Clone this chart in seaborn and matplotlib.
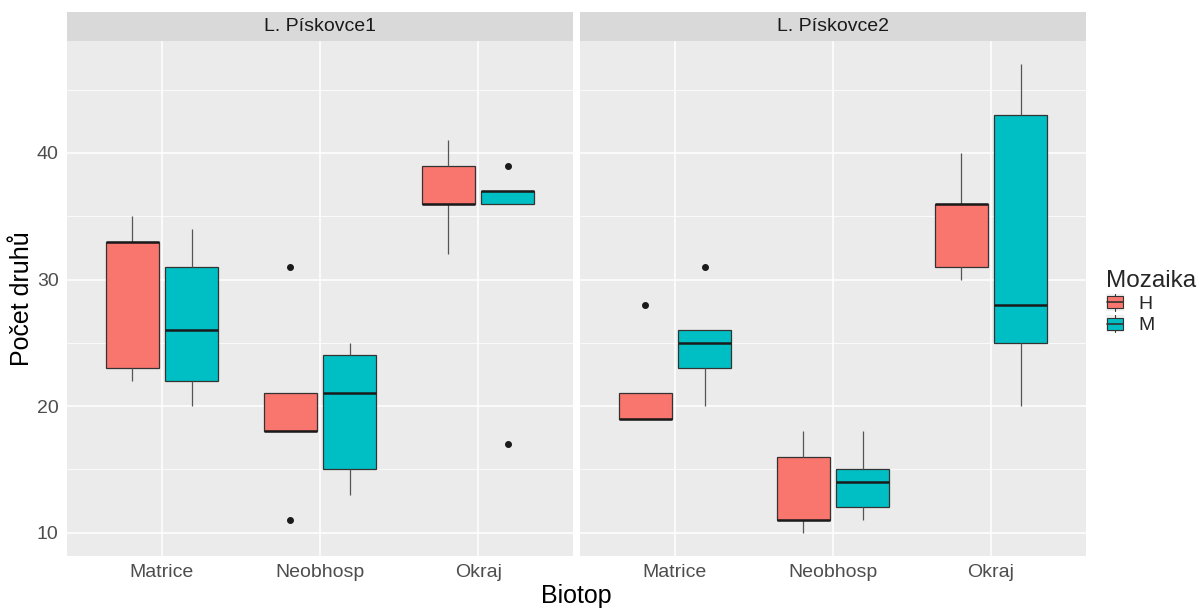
import matplotlib.pyplot as plt
import numpy as np
import pandas as pd
import seaborn as sns
from matplotlib.patches import Patch, Rectangle
from matplotlib.lines import Line2D
from matplotlib.legend_handler import HandlerBase
from matplotlib.ticker import MultipleLocator

biotopy = ['Matrice', 'Neobhosp', 'Okraj']
lokality = ['L. Pískovce1', 'L. Pískovce2']
mozaiky = ['H', 'M']
barvy = ['#F8766D', '#00BFC4']
y_ticks = [10, 20, 30, 40]

# pocet druhu, L. Piskovce1
p1_H_matrice = [22, 23, 33, 33, 35]
p1_M_matrice = [20, 22, 26, 31, 34]
p1_H_neobhosp = [11, 18, 18, 21, 31]
p1_M_neobhosp = [13, 15, 21, 24, 25]
p1_H_okraj = [32, 36, 36, 39, 41]
p1_M_okraj = [17, 36, 37, 37, 39]
# pocet druhu, L. Piskovce2
p2_H_matrice = [19, 19, 19, 21, 28]
p2_M_matrice = [20, 23, 25, 26, 31]
p2_H_neobhosp = [10, 11, 11, 16, 18]
p2_M_neobhosp = [11, 12, 14, 15, 18]
p2_H_okraj = [30, 31, 36, 36, 40]
p2_M_okraj = [20, 25, 28, 43, 47]

rows = []
serie = [
    (lokality[0], 'H', 'Matrice', p1_H_matrice), (lokality[0], 'M', 'Matrice', p1_M_matrice),
    (lokality[0], 'H', 'Neobhosp', p1_H_neobhosp), (lokality[0], 'M', 'Neobhosp', p1_M_neobhosp),
    (lokality[0], 'H', 'Okraj', p1_H_okraj), (lokality[0], 'M', 'Okraj', p1_M_okraj),
    (lokality[1], 'H', 'Matrice', p2_H_matrice), (lokality[1], 'M', 'Matrice', p2_M_matrice),
    (lokality[1], 'H', 'Neobhosp', p2_H_neobhosp), (lokality[1], 'M', 'Neobhosp', p2_M_neobhosp),
    (lokality[1], 'H', 'Okraj', p2_H_okraj), (lokality[1], 'M', 'Okraj', p2_M_okraj),
]
for lok, moz, bio, vals in serie:
    for v in vals:
        rows.append({'Lokalita': lok, 'Mozaika': moz, 'Biotop': bio, 'Pocet': v})
df = pd.DataFrame(rows)


class BoxKey(HandlerBase):
    # legend key like ggplot: grey square with a small boxplot
    def create_artists(self, legend, orig, xd, yd, w, h, fs, trans):
        x0, y0 = -xd, -yd
        bg = Rectangle((x0, y0), w, h, facecolor='#F0F0F0', edgecolor='none', transform=trans)
        wh = Line2D([x0 + w / 2] * 2, [y0, y0 + h], color='#333333',
                    lw=0.8, transform=trans)
        box = Rectangle((x0 + w * 0.08, y0 + h * 0.15), w * 0.84, h * 0.7,
                        facecolor=orig.get_facecolor(), edgecolor='#333333', lw=0.8,
                        transform=trans)
        med = Line2D([x0 + w * 0.08, x0 + w * 0.92], [y0 + h / 2] * 2, color='#333333',
                     lw=1.2, transform=trans)
        return [bg, wh, box, med]


sns.set_style('white')
plt.rcParams['font.family'] = ['Liberation Sans', 'DejaVu Sans']

W, H = 1204, 609
fig = plt.figure(figsize=(W / 100, H / 100), dpi=100)
panels = [(67, 573), (580, 1086)]
top, bottom = 41, 556

for i, (lok, (x0, x1)) in enumerate(zip(lokality, panels)):
    ax = fig.add_axes([x0 / W, 1 - bottom / H, (x1 - x0) / W, (bottom - top) / H])
    ax.set_facecolor('#EBEBEB')
    sns.boxplot(data=df[df['Lokalita'] == lok], x='Biotop', y='Pocet', hue='Mozaika',
                order=biotopy, hue_order=mozaiky, palette=barvy, width=0.75, gap=0.1,
                linecolor='#333333', linewidth=0.9, showcaps=False, saturation=1,
                medianprops={'linewidth': 1.8, 'color': '#1a1a1a'},
                flierprops={'marker': 'o', 'markersize': 4, 'markerfacecolor': '#1a1a1a',
                            'markeredgecolor': '#1a1a1a'},
                whiskerprops={'color': '#555555'},
                legend=False, ax=ax)
    ax.set_ylim(8.15, 48.85)
    ax.set_xlim(-0.6, 2.6)
    ax.yaxis.set_major_locator(MultipleLocator(10))
    ax.yaxis.set_minor_locator(MultipleLocator(5))
    ax.set_yticks(y_ticks)
    ax.grid(True, which='major', color='white', linewidth=1.1)
    ax.grid(True, which='minor', axis='y', color='white', linewidth=0.55)
    ax.set_axisbelow(True)
    for s in ax.spines.values():
        s.set_visible(False)
    ax.set_xlabel('')
    ax.set_ylabel('')
    ax.tick_params(axis='both', which='major', length=3, color='#333333', width=0.8,
                   labelcolor='#4D4D4D', labelsize=14, pad=3)
    ax.tick_params(axis='y', which='minor', length=0)
    if i == 1:
        ax.tick_params(axis='y', which='major', length=0, labelleft=False)

    strip = fig.add_axes([x0 / W, 1 - top / H, (x1 - x0) / W, 29 / H])
    strip.set_facecolor('#D9D9D9')
    strip.set_xticks([])
    strip.set_yticks([])
    for s in strip.spines.values():
        s.set_visible(False)
    strip.text(0.5, 0.5, lok, ha='center', va='center', fontsize=14, color='#1A1A1A',
               transform=strip.transAxes)

fig.text(22 / W, 1 - (top + bottom) / 2 / H, 'Počet druhů', rotation=90, ha='center',
         va='center', fontsize=18, color='black')
fig.text((67 + 1086) / 2 / W, 1 - 596 / H, 'Biotop', ha='center', va='center',
         fontsize=18, color='black')

handles = [Patch(facecolor=c) for c in barvy]
leg = fig.legend(handles, mozaiky, title='Mozaika', loc='center left',
                 bbox_to_anchor=(1106 / W, 1 - 302 / H), frameon=False,
                 borderpad=0, borderaxespad=0,
                 fontsize=14, title_fontsize=17.5, handlelength=0.95, handleheight=0.95,
                 handletextpad=0.7, labelspacing=0.12,
                 handler_map={Patch: BoxKey()})
leg._legend_box.align = 'left'

fig.savefig('out.png', dpi=100)
